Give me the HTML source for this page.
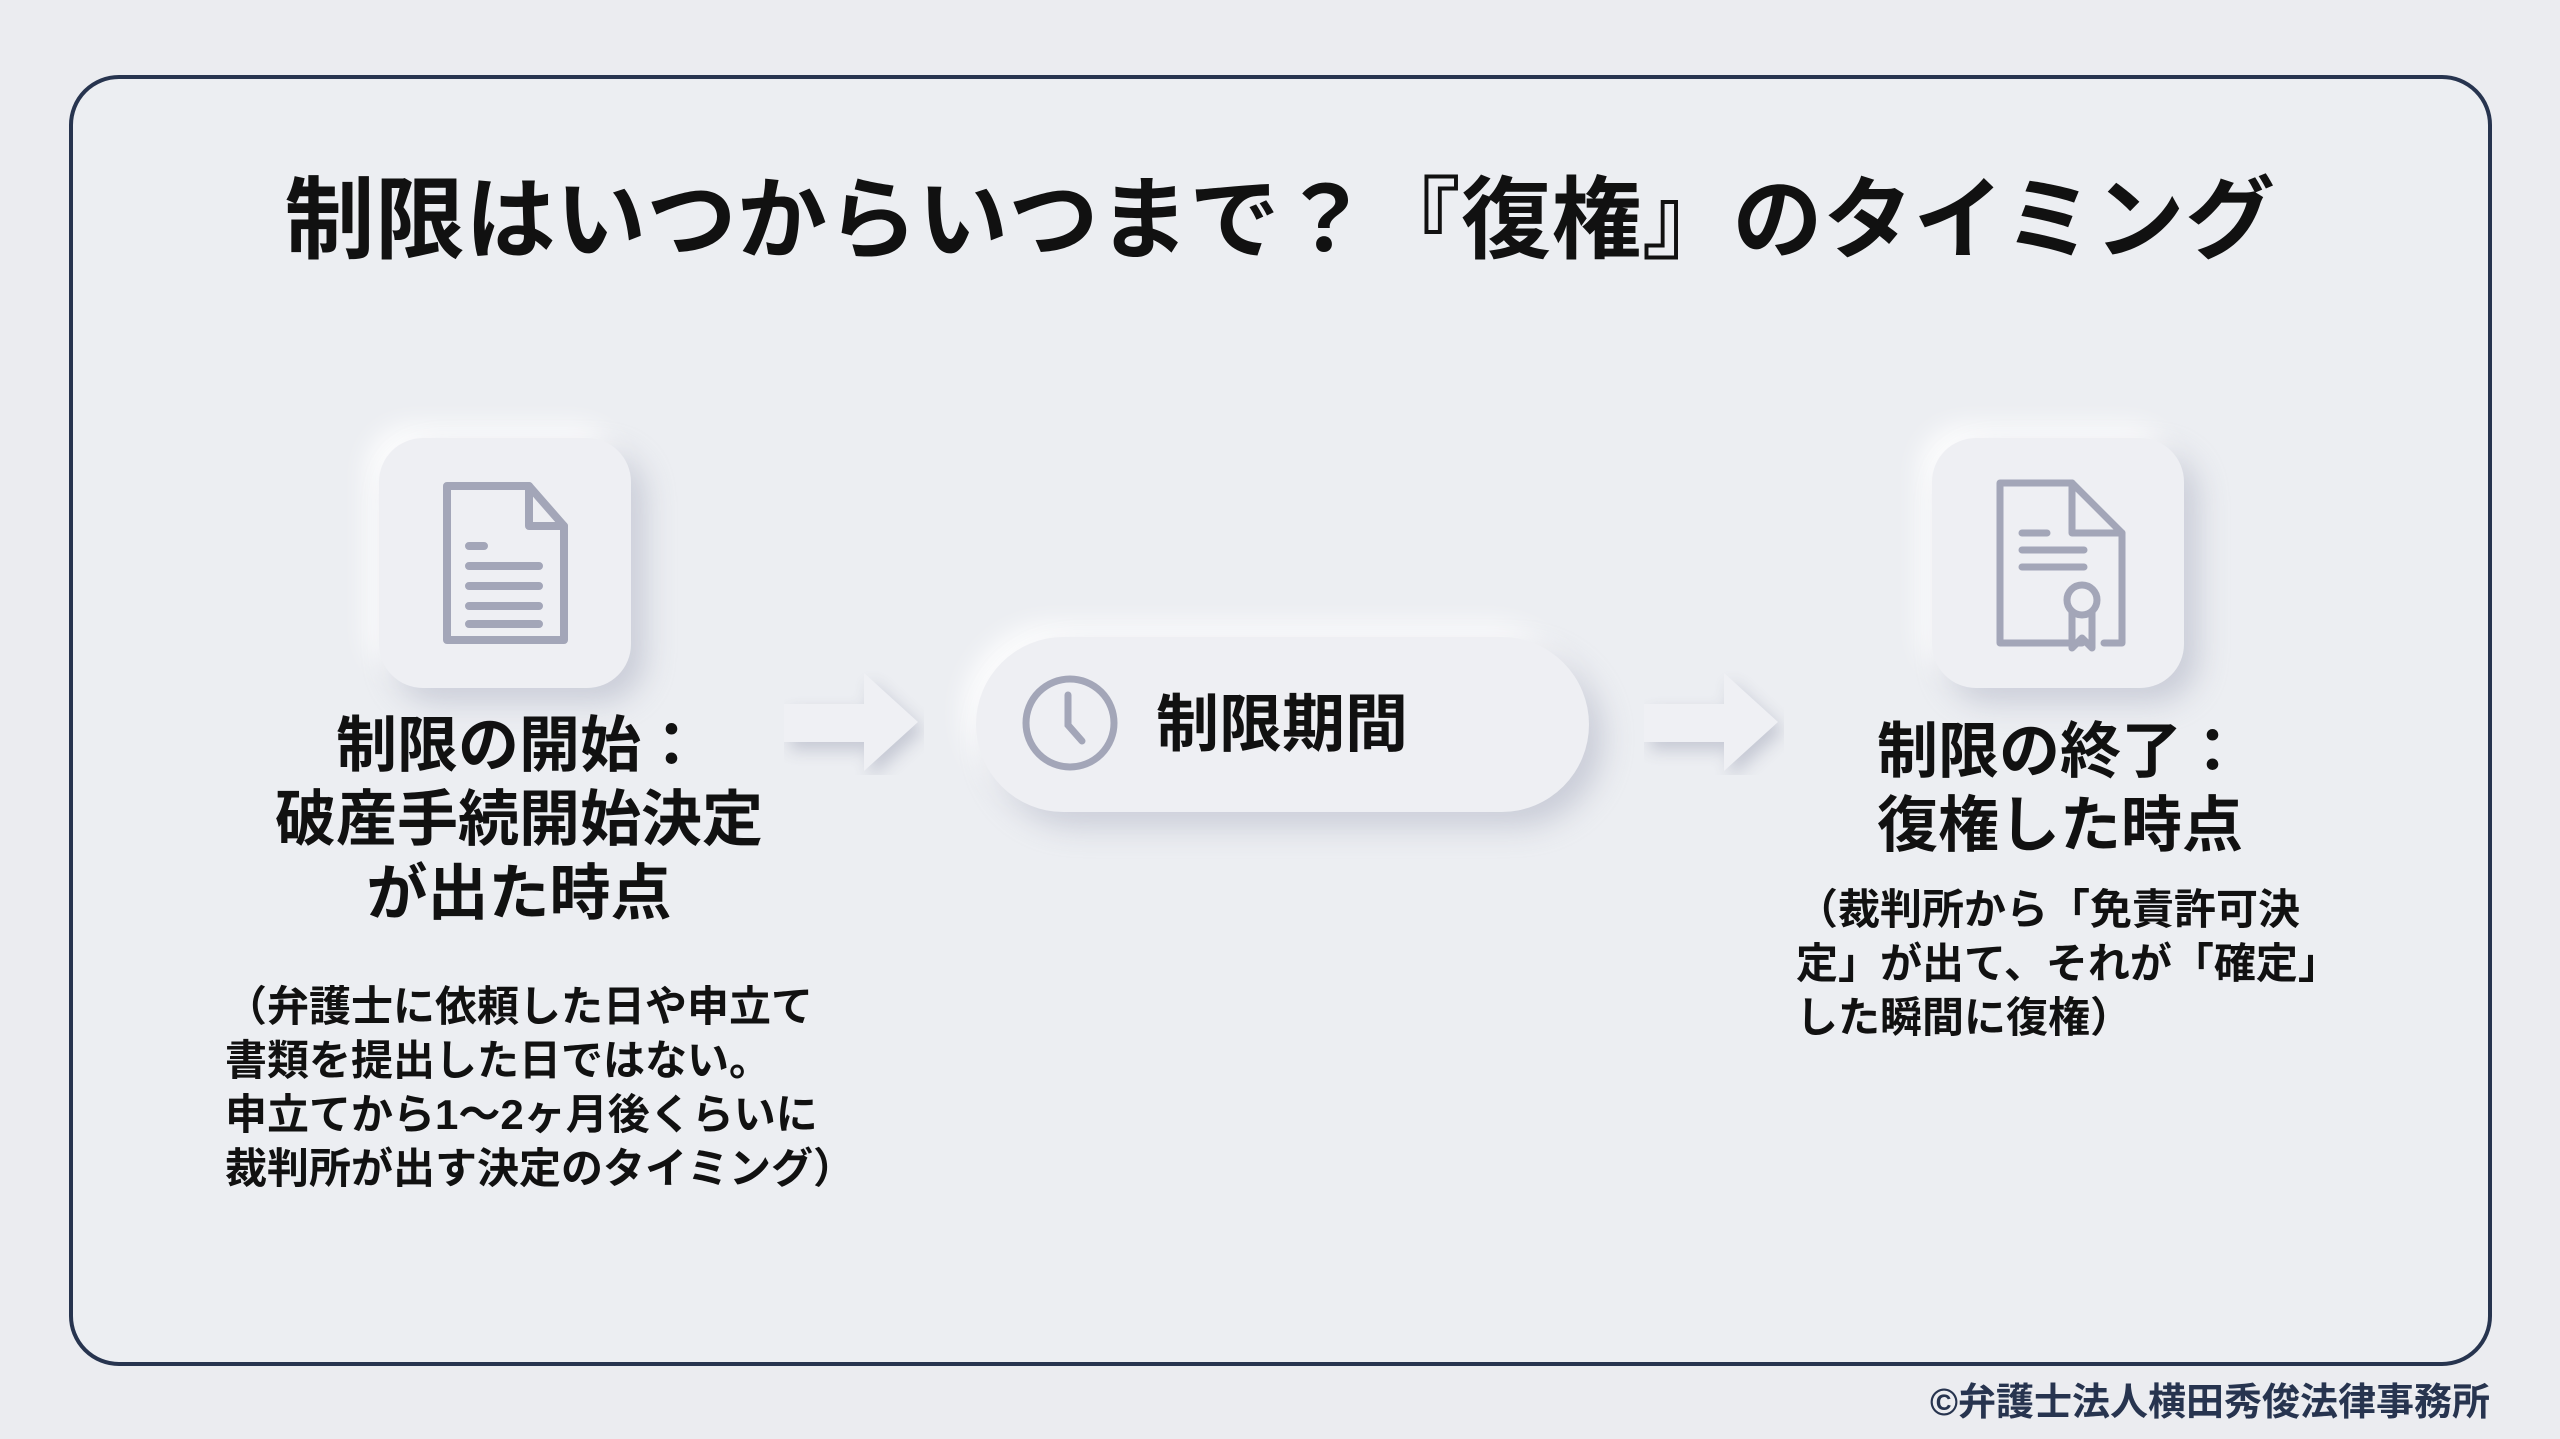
<!DOCTYPE html>
<html><head><meta charset="utf-8"><style>
html,body{margin:0;padding:0}
body{width:2560px;height:1439px;background:#ebecf0;position:relative;overflow:hidden;font-family:"Liberation Sans","Noto Sans CJK JP",sans-serif;color:#111;}
.frame{position:absolute;left:69px;top:75px;width:2415px;height:1283px;border:4px solid #27344f;border-radius:50px;background:#eceef2;}
.abs{position:absolute}
.title{left:0;width:2560px;top:161px;text-align:center;font-size:90px;font-weight:bold;line-height:120px;letter-spacing:0.5px}
.box{width:252px;height:250px;border-radius:44px;background:#eeeff3;box-shadow:14px 14px 30px rgba(160,165,185,.45),-12px -12px 26px rgba(255,255,255,.95);}
.head{font-size:61px;font-weight:bold;line-height:74px;text-align:center}
.note{font-size:42px;font-weight:bold;line-height:54px}
.pill{left:976px;top:637px;width:613px;height:175px;border-radius:88px;background:#eeeff3;box-shadow:14px 14px 30px rgba(160,165,185,.45),-12px -12px 26px rgba(255,255,255,.95);}
</style></head><body>
<div class="frame"></div>
<div class="abs title">制限はいつからいつまで？『復権』のタイミング</div>

<div class="abs box" style="left:379px;top:438px"></div>
<svg class="abs" style="left:379px;top:438px" width="252" height="250" viewBox="0 0 252 250">
<g fill="none" stroke="#a3a6b8" stroke-width="8" stroke-linejoin="round" stroke-linecap="round">
<path d="M68 48 H150 L185 88 V202 H68 Z"/><path d="M150 48 V88 H185"/>
<path d="M90 108 H105 M90 128 H160 M90 148 H160 M90 168 H160 M90 186 H160"/>
</g></svg>
<div class="abs head" style="left:219px;width:600px;top:708px">制限の開始：<br>破産手続開始決定<br>が出た時点</div>
<div class="abs note" style="left:225px;top:980px">（弁護士に依頼した日や申立て<br>書類を提出した日ではない。<br>申立てから1～2ヶ月後くらいに<br>裁判所が出す決定のタイミング）</div>

<svg class="abs" style="left:784px;top:670px" width="140" height="105" viewBox="0 0 140 105">
<path d="M0 34 H80 V3 L134 52 L80 101 V72 H0 Z" fill="#eff0f4" style="filter:drop-shadow(6px 8px 8px rgba(150,155,175,.45))"/></svg>

<div class="abs pill"></div>
<svg class="abs" style="left:1020px;top:673px" width="100" height="100" viewBox="0 0 100 100">
<g fill="none" stroke="#a3a6b8" stroke-width="7" stroke-linecap="round"><circle cx="50" cy="50" r="44"/><path d="M48 22 V52 L62 68"/></g></svg>
<div class="abs" style="left:1156px;top:690px;font-size:63px;font-weight:bold;line-height:70px">制限期間</div>

<svg class="abs" style="left:1644px;top:670px" width="140" height="105" viewBox="0 0 140 105">
<path d="M0 34 H80 V3 L134 52 L80 101 V72 H0 Z" fill="#eff0f4" style="filter:drop-shadow(6px 8px 8px rgba(150,155,175,.45))"/></svg>

<div class="abs box" style="left:1932px;top:438px"></div>
<svg class="abs" style="left:1932px;top:438px" width="252" height="250" viewBox="0 0 252 250">
<g fill="none" stroke="#a3a6b8" stroke-width="7" stroke-linejoin="round" stroke-linecap="round">
<path d="M150 205 H68 V45 H140 L190 95 V205 H172 M68 205"/><path d="M140 45 V95 H190"/>
<path d="M90 95 H115 M90 112 H152 M90 129 H152"/>
<circle cx="150" cy="162" r="15"/><path d="M140 175 V210 L150 200 L160 210 V175"/>
</g></svg>
<div class="abs head" style="left:1760px;width:600px;top:714px">制限の終了：<br>復権した時点</div>
<div class="abs note" style="left:1796px;top:883px">（裁判所から「免責許可決<br>定」が出て、それが「確定」<br>した瞬間に復権）</div>

<div class="abs" style="right:70px;top:1381px;font-size:38px;font-weight:bold;color:#27344f;line-height:44px">©弁護士法人横田秀俊法律事務所</div>
</body></html>
